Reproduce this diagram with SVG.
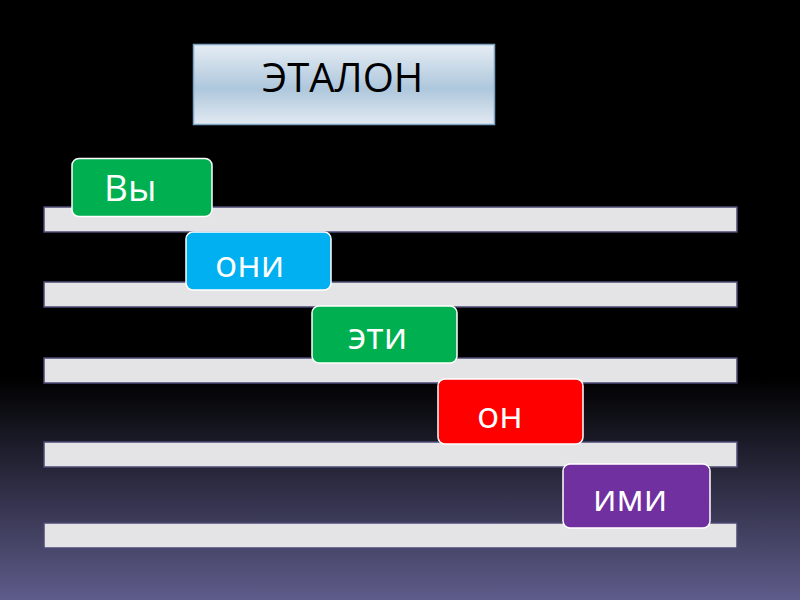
<svg xmlns="http://www.w3.org/2000/svg" width="800" height="600" viewBox="0 0 800 600">
<defs>
<linearGradient id="bg" x1="0" y1="0" x2="0" y2="1">
<stop offset="0" stop-color="#000000"/>
<stop offset="0.63" stop-color="#000000"/>
<stop offset="1" stop-color="#5e5c8a"/>
</linearGradient>
<linearGradient id="tb" x1="0" y1="0" x2="0" y2="1">
<stop offset="0" stop-color="#e6edf4"/>
<stop offset="0.55" stop-color="#aec7dc"/>
<stop offset="1" stop-color="#e2eaf2"/>
</linearGradient>
<style>
.bar{fill:#e4e4e6;stroke:#4b4a75;stroke-width:1.5}
.box{stroke:#ffffff;stroke-width:1.5}
.lbl{font-family:"Open Sans","DejaVu Sans",sans-serif;font-size:37px;fill:#ffffff}
.ttl{font-family:"Open Sans","DejaVu Sans",sans-serif;font-size:40px;fill:#000000}
</style>
</defs>
<rect width="800" height="600" fill="url(#bg)"/>
<g id="title">
<rect x="193.5" y="44.5" width="301" height="80" fill="url(#tb)" stroke="#7fa3c2" stroke-width="1.5"/>
<text class="ttl" x="262" y="92">ЭТАЛОН</text>
</g>
<g id="lines">
<rect class="bar" x="44" y="207" width="693" height="25"/>
<rect class="bar" x="44" y="282" width="693" height="25"/>
<rect class="bar" x="44" y="358" width="693" height="25"/>
<rect class="bar" x="44" y="442" width="693" height="25"/>
<rect class="bar" x="44" y="523" width="693" height="25"/>
</g>
<g id="n1">
<rect class="box" x="72" y="158.5" width="140" height="58" rx="7" fill="#00b050"/>
<text class="lbl" x="104" y="201">Вы</text>
</g>
<g id="n2">
<rect class="box" x="186" y="232" width="145" height="58" rx="7" fill="#00b0f0"/>
<text class="lbl" x="215" y="277">они</text>
</g>
<g id="n3">
<rect class="box" x="312" y="306" width="145" height="57" rx="7" fill="#00b050"/>
<text class="lbl" x="348" y="349">эти</text>
</g>
<g id="n4">
<rect class="box" x="438" y="379" width="145" height="65" rx="7" fill="#ff0000"/>
<text class="lbl" x="477" y="428">он</text>
</g>
<g id="n5">
<rect class="box" x="563" y="464" width="147" height="64" rx="7" fill="#7030a0"/>
<text class="lbl" x="593" y="511">ими</text>
</g>
</svg>
